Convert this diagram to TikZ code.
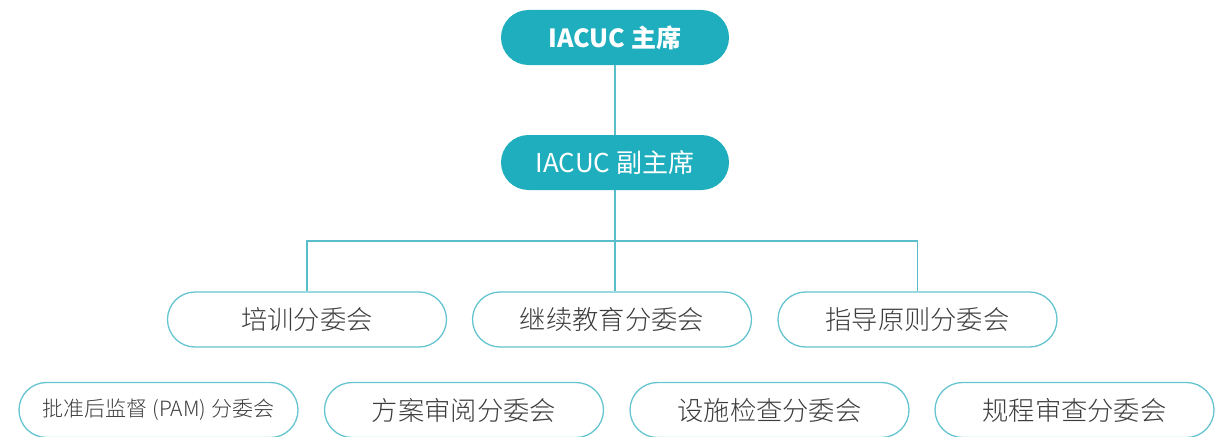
\documentclass[tikz,border=0pt]{standalone}
\usepackage{fontspec}
\setmainfont{Noto Sans CJK SC}
\newfontfamily\lightcjk{Noto Sans CJK SC Light}
\begin{document}
\begin{tikzpicture}[x=1pt,y=-1pt,
  lead/.style={fill=teal1,draw=none,rounded corners=27.5pt,minimum width=228pt,minimum height=55pt,inner sep=0pt,text=white,font=\fontsize{26}{29}\selectfont},
  sub/.style={fill=white,draw=edge1,line width=1.3pt,rounded corners=27.5pt,minimum width=279pt,minimum height=55pt,inner sep=0pt,text=txt1,font=\lightcjk\fontsize{26.3}{29}\selectfont},
  link/.style={draw=line1,line width=1.3pt}]
\definecolor{teal1}{RGB}{30,174,189}
\definecolor{edge1}{RGB}{100,196,208}
\definecolor{line1}{RGB}{90,190,202}
\definecolor{txt1}{RGB}{60,60,60}
\useasboundingbox (0,0) rectangle (1230,436);
\node[lead,font=\fontsize{25}{28}\selectfont\bfseries] (chair) at (615,37.5) {IACUC 主席};
\node[lead] (vice) at (615,162.5) {IACUC 副主席};
\node[sub] (c1) at (307,319.5) {培训分委会};
\node[sub] (c2) at (612,319.5) {继续教育分委会};
\node[sub] (c3) at (917.5,319.5) {指导原则分委会};
\node[sub,font=\lightcjk\fontsize{21}{24}\selectfont] (d1) at (158.5,410) {批准后监督 (PAM) 分委会};
\node[sub] (d2) at (464,410) {方案审阅分委会};
\node[sub] (d3) at (769.5,410) {设施检查分委会};
\node[sub] (d4) at (1074.5,410) {规程审查分委会};
\coordinate (bus) at (615,241);
\draw[link] (chair.south) -- (vice.north);
\draw[link] (vice.south) -- (vice.south |- c2.north);
\draw[link] (bus) -| (c1.north);
\draw[link] (bus) -| (c3.north);
\end{tikzpicture}
\end{document}
